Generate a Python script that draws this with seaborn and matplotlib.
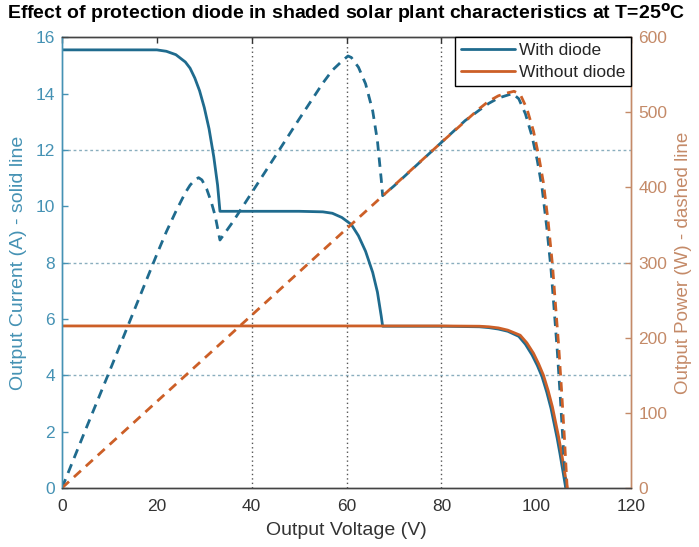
import matplotlib
matplotlib.use("Agg")
import matplotlib.pyplot as plt
from matplotlib.lines import Line2D
import seaborn as sns
import pandas as pd

# ---- data ----
v_with_i = [0, 10, 20, 22, 24, 26, 27, 28, 29, 30, 31, 32, 32.8, 33.3, 40, 50, 55, 57, 59, 61,
            62.5, 64, 65.5, 66.5, 67.3, 67.6, 80, 88, 90, 92, 94, 96.3, 97.7, 99.1, 100.2,
            101.2, 102.2, 103.1, 103.8, 104.4, 105.0, 105.6, 106.2]
i_with = [15.55, 15.55, 15.55, 15.5, 15.38, 15.12, 14.9, 14.55, 14.1, 13.5, 12.75, 11.75, 10.75,
          9.82, 9.82, 9.82, 9.8, 9.75, 9.6, 9.35, 8.95, 8.4, 7.65, 6.95, 6.1, 5.74, 5.74, 5.72,
          5.69, 5.64, 5.56, 5.38, 5.1, 4.72, 4.35, 3.95, 3.4, 2.82, 2.25, 1.76, 1.2, 0.6, 0.0]

v_with_p = [0, 5, 10, 15, 20, 22, 24, 26, 27, 28, 28.8, 29.5, 30.5, 31.5, 32.3, 33.3, 36, 40, 45,
            50, 55, 57, 59, 60.3, 61, 62.5, 64, 65.5, 66.5, 67.3, 67.6, 70, 75, 80, 85, 88, 90,
            92, 94, 95, 96.3, 97.7, 99.1, 100.2, 101.2, 102.2, 103.1, 103.8, 104.4, 105.0,
            105.6, 106.2]
p_with = [0, 78, 155, 233, 311, 341, 368, 393, 403, 410, 413, 410, 398, 380, 362, 330, 354, 393,
          442, 491, 539, 556, 568, 575, 573, 560, 538, 502, 462, 411, 389, 402, 431, 460, 489,
          503, 512, 519, 523, 525, 518, 498, 468, 436, 400, 347, 291, 234, 184, 126, 64, 0]

v_without_i = [0, 20, 40, 60, 80, 88, 90, 92, 94, 96.6, 98, 99.4, 100.5, 101.5, 102.5, 103.4,
               104.1, 104.7, 105.3, 105.9, 106.5]
i_without = [5.75, 5.75, 5.75, 5.75, 5.75, 5.74, 5.72, 5.68, 5.6, 5.42, 5.15, 4.78, 4.4, 4.0,
             3.45, 2.87, 2.3, 1.81, 1.25, 0.65, 0.0]

v_without_p = [0, 20, 40, 60, 80, 88, 90, 92, 94, 95.3, 96.6, 98, 99.4, 100.5, 101.5, 102.5,
               103.4, 104.1, 104.7, 105.3, 105.9, 106.5]
p_without = [0, 115, 230, 345, 460, 505, 515, 522, 526, 528, 524, 505, 475, 442, 406, 354, 297,
             239, 190, 132, 69, 0]

x_ticks = [0, 20, 40, 60, 80, 100, 120]
left_ticks = [0, 2, 4, 6, 8, 10, 12, 14, 16]
right_ticks = [0, 100, 200, 300, 400, 500, 600]
v_grid = [40, 60, 80]
i_grid = [4, 8, 12]
labels = ["With diode", "Without diode"]

# ---- style ----
BLUE = "#1f6b8e"
ORANGE = "#cc5f27"
LEFT_TXT = "#4592b4"
RIGHT_TXT = "#c48a68"

sns.set_style("white")
plt.rcParams["font.family"] = ["Liberation Sans Narrow", "Liberation Sans", "DejaVu Sans"]

fig = plt.figure(figsize=(6.99, 5.47), dpi=100)
ax = fig.add_axes([0.0887, 0.108, 0.8143, 0.824])
ax2 = ax.twinx()

# grid lines (reference shows only these)
for gv in v_grid:
    ax.axvline(gv, color="#555555", linestyle=(0, (1, 2.2)), lw=1.0, zorder=0.5)
for gi in i_grid:
    ax.axhline(gi, color="#8aaebe", linestyle=(0, (2, 2)), lw=1.0, zorder=0.5)

df_wi = pd.DataFrame({"V": v_with_i, "I": i_with})
df_woi = pd.DataFrame({"V": v_without_i, "I": i_without})
df_wp = pd.DataFrame({"V": v_with_p, "P": p_with})
df_wop = pd.DataFrame({"V": v_without_p, "P": p_without})

sns.lineplot(data=df_wi, x="V", y="I", ax=ax, color=BLUE, lw=2.0, estimator=None, sort=False)
sns.lineplot(data=df_woi, x="V", y="I", ax=ax, color=ORANGE, lw=2.0, estimator=None, sort=False)
sns.lineplot(data=df_wp, x="V", y="P", ax=ax2, color=BLUE, lw=2.0, estimator=None, sort=False)
sns.lineplot(data=df_wop, x="V", y="P", ax=ax2, color=ORANGE, lw=2.0, estimator=None, sort=False)
for ln in ax2.get_lines():
    ln.set_linestyle((0, (3.4, 2.4)))

ax.set_xlim(0, 120)
ax.set_ylim(0, 16)
ax2.set_ylim(0, 600)
ax.set_xticks(x_ticks)
ax.set_yticks(left_ticks)
ax2.set_yticks(right_ticks)
ax.grid(False)
ax2.grid(False)

ax.tick_params(axis="x", direction="in", top=True, length=4, labelsize=12.5,
               colors="#333333", width=1, pad=8)
ax.tick_params(axis="y", direction="in", length=4, labelsize=12.5,
               colors=LEFT_TXT, width=1, pad=5)
ax2.tick_params(axis="y", direction="in", length=4, labelsize=12.5, colors=RIGHT_TXT,
                width=1, pad=5)

for a in (ax, ax2):
    for s in a.spines.values():
        s.set_linewidth(1.0)
        s.set_visible(True)
    a.spines["top"].set_color("#444444")
    a.spines["bottom"].set_color("#444444")
    a.spines["left"].set_color(LEFT_TXT)
    a.spines["right"].set_color(RIGHT_TXT)

ax.set_xlabel("Output Voltage (V)", fontsize=14, color="#333333", labelpad=6)
ax.set_ylabel("Output Current (A) - solid line", fontsize=14, color=LEFT_TXT, labelpad=6)
ax2.set_ylabel("Output Power (W) - dashed line", fontsize=13.5, color=RIGHT_TXT, labelpad=6)

ax.set_title(r"Effect of protection diode in shaded solar plant characteristics at T=25$^{\mathbf{o}}$C",
             fontsize=14, fontweight="bold", color="black", pad=13)

handles = [Line2D([], [], color=BLUE, lw=2.0), Line2D([], [], color=ORANGE, lw=2.0)]
leg = ax2.legend(handles, labels, loc="upper right", borderaxespad=0, fancybox=False,
                 edgecolor="black", framealpha=1, fontsize=12.5, handlelength=3.1,
                 handletextpad=0.2, borderpad=0.35, labelspacing=0.35)
leg.get_frame().set_linewidth(1.0)
leg.set_zorder(10)

fig.savefig("out.png", dpi=100)
